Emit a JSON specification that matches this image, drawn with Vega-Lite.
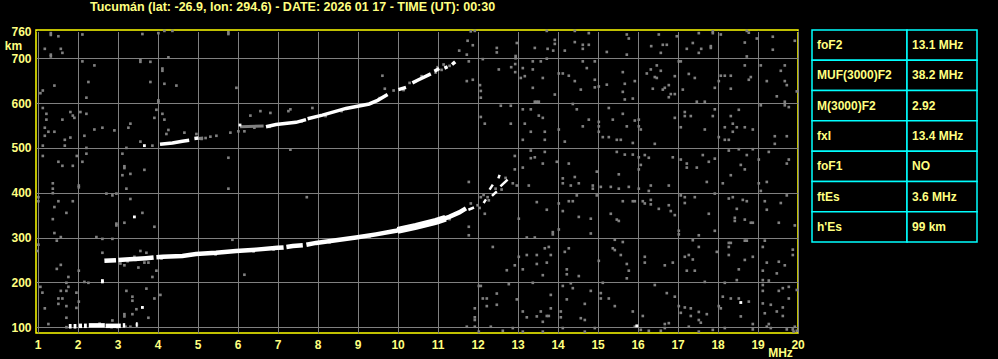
{
"$schema": "https://vega.github.io/schema/vega-lite/v6.json",
"background": "#000000",
"padding": {"left": 3, "top": 0, "right": 21, "bottom": 2},
"bounds": "flush",
"spacing": 14,
"datasets": {
"noise": [
{"f":11.83,"h":760},{"f":11.93,"h":761},{"f":11.75,"h":739},{"f":11.88,"h":729},{"f":11.54,"h":717},{"f":11.73,"h":708},{"f":12.48,"h":723},{"f":12.48,"h":713},{"f":12.98,"h":734},{"f":13.43,"h":723},{"f":13.73,"h":761},{"f":13.75,"h":721},{"f":13.93,"h":741},{"f":13.93,"h":732},{"f":13.89,"h":717},{"f":14.18,"h":717},{"f":14.43,"h":761},{"f":14.43,"h":736},{"f":14.63,"h":730},{"f":14.63,"h":721},{"f":14.78,"h":756},{"f":14.78,"h":730},{"f":15.23,"h":714},{"f":15.73,"h":753},{"f":15.78,"h":744},{"f":15.73,"h":708},{"f":16.34,"h":727},{"f":16.53,"h":753},{"f":16.63,"h":730},{"f":16.73,"h":730},{"f":16.58,"h":712},{"f":16.98,"h":749},{"f":17.23,"h":721},{"f":17.38,"h":734},{"f":17.53,"h":756},{"f":17.53,"h":712},{"f":17.59,"h":721},{"f":17.83,"h":723},{"f":17.83,"h":727},{"f":17.88,"h":756},{"f":17.88,"h":760},{"f":18.08,"h":753},{"f":18.68,"h":735},{"f":18.73,"h":761},{"f":18.78,"h":757},{"f":18.73,"h":704},{"f":18.98,"h":744},{"f":19.38,"h":748},{"f":19.38,"h":719},{"f":19.93,"h":739},
{"f":12.13,"h":698},{"f":12.53,"h":675},{"f":12.84,"h":680},{"f":12.94,"h":687},{"f":12.94,"h":669},{"f":13.13,"h":678},{"f":13.08,"h":656},{"f":13.18,"h":660},{"f":13.38,"h":693},{"f":13.38,"h":675},{"f":13.58,"h":693},{"f":13.63,"h":656},{"f":13.73,"h":699},{"f":13.38,"h":634},{"f":13.93,"h":619},{"f":14.03,"h":666},{"f":14.13,"h":666},{"f":14.28,"h":661},{"f":14.43,"h":649},{"f":14.58,"h":630},{"f":14.63,"h":693},{"f":14.73,"h":678},{"f":14.93,"h":693},{"f":14.93,"h":652},{"f":14.93,"h":635},{"f":15.03,"h":637},{"f":15.23,"h":641},{"f":15.63,"h":669},{"f":15.68,"h":643},{"f":15.63,"h":625},{"f":15.68,"h":608},{"f":15.88,"h":610},{"f":15.93,"h":649},{"f":16.23,"h":666},{"f":16.33,"h":675},{"f":16.43,"h":658},{"f":16.48,"h":656},{"f":16.48,"h":684},{"f":16.58,"h":672},{"f":16.38,"h":632},{"f":16.63,"h":630},{"f":16.68,"h":634},{"f":16.78,"h":640},{"f":16.78,"h":613},{"f":16.83,"h":620},{"f":16.93,"h":660},{"f":16.93,"h":620},{"f":17.03,"h":693},{"f":17.08,"h":693},{"f":17.13,"h":630},{"f":17.28,"h":665},{"f":17.43,"h":656},{"f":17.93,"h":634},{"f":18.03,"h":649},{"f":18.08,"h":661},{"f":18.18,"h":661},{"f":18.33,"h":661},{"f":18.33,"h":632},{"f":18.68,"h":684},{"f":18.78,"h":652},{"f":18.83,"h":658},{"f":19.23,"h":649},{"f":19.48,"h":615},{"f":19.58,"h":672},{"f":19.68,"h":684},{"f":19.68,"h":649},{"f":19.73,"h":640},{"f":19.98,"h":626},{"f":19.08,"h":684},{"f":12.06,"h":640},{"f":12.08,"h":627},{"f":12.08,"h":612},{"f":12.95,"h":705},{"f":12.95,"h":700},{"f":11.78,"h":693},{"f":11.73,"h":649},{"f":11.88,"h":652},
{"f":12.08,"h":569},{"f":12.18,"h":554},{"f":12.58,"h":594},{"f":12.83,"h":594},{"f":12.83,"h":554},{"f":13.13,"h":586},{"f":13.18,"h":554},{"f":13.33,"h":586},{"f":13.43,"h":603},{"f":13.48,"h":603},{"f":13.53,"h":603},{"f":13.53,"h":572},{"f":13.63,"h":567},{"f":13.13,"h":518},{"f":13.33,"h":536},{"f":13.68,"h":536},{"f":13.68,"h":518},{"f":14.03,"h":541},{"f":14.18,"h":514},{"f":14.38,"h":598},{"f":14.48,"h":586},{"f":14.63,"h":548},{"f":14.78,"h":563},{"f":15.03,"h":558},{"f":15.03,"h":548},{"f":15.03,"h":536},{"f":15.13,"h":524},{"f":15.28,"h":589},{"f":15.28,"h":524},{"f":15.38,"h":563},{"f":15.48,"h":518},{"f":15.58,"h":518},{"f":15.63,"h":576},{"f":15.73,"h":548},{"f":15.93,"h":561},{"f":15.88,"h":511},{"f":16.03,"h":563},{"f":16.03,"h":548},{"f":16.08,"h":541},{"f":16.43,"h":509},{"f":16.93,"h":567},{"f":17.08,"h":546},{"f":17.18,"h":580},{"f":17.18,"h":571},{"f":17.33,"h":571},{"f":17.48,"h":603},{"f":17.68,"h":603},{"f":17.68,"h":541},{"f":17.88,"h":571},{"f":17.93,"h":586},{"f":18.03,"h":524},{"f":18.18,"h":546},{"f":18.18,"h":518},{"f":18.28,"h":518},{"f":18.33,"h":571},{"f":18.38,"h":554},{"f":18.38,"h":536},{"f":18.48,"h":546},{"f":18.53,"h":585},{"f":18.68,"h":546},{"f":18.88,"h":541},{"f":19.08,"h":595},{"f":19.43,"h":526},{"f":19.43,"h":509},{"f":19.68,"h":603},{"f":19.68,"h":595},{"f":19.78,"h":591},{"f":19.73,"h":526},
{"f":12.93,"h":482},{"f":12.93,"h":452},{"f":13.13,"h":456},{"f":13.33,"h":494},{"f":13.33,"h":477},{"f":13.43,"h":479},{"f":13.63,"h":465},{"f":13.68,"h":491},{"f":13.98,"h":469},{"f":14.28,"h":465},{"f":14.43,"h":435},{"f":14.13,"h":432},{"f":14.98,"h":447},{"f":15.48,"h":491},{"f":15.53,"h":441},{"f":15.68,"h":485},{"f":15.88,"h":485},{"f":16.03,"h":479},{"f":16.08,"h":462},{"f":16.03,"h":452},{"f":16.18,"h":484},{"f":16.28,"h":478},{"f":16.88,"h":479},{"f":17.08,"h":474},{"f":17.23,"h":465},{"f":17.23,"h":456},{"f":17.48,"h":456},{"f":17.63,"h":484},{"f":17.78,"h":469},{"f":17.93,"h":476},{"f":18.28,"h":494},{"f":18.33,"h":439},{"f":18.53,"h":497},{"f":18.58,"h":462},{"f":18.68,"h":452},{"f":18.73,"h":484},{"f":18.88,"h":497},{"f":19.03,"h":474},{"f":19.28,"h":491},{"f":19.73,"h":465},{"f":19.78,"h":474},
{"f":11.78,"h":424},{"f":12.88,"h":421},{"f":12.98,"h":416},{"f":13.28,"h":416},{"f":14.13,"h":421},{"f":14.33,"h":416},{"f":14.53,"h":421},{"f":14.88,"h":416},{"f":14.88,"h":409},{"f":15.08,"h":413},{"f":15.33,"h":413},{"f":15.53,"h":409},{"f":15.78,"h":413},{"f":16.03,"h":409},{"f":16.28,"h":404},{"f":16.33,"h":416},{"f":16.78,"h":416},{"f":17.73,"h":424},{"f":18.13,"h":421},{"f":19.03,"h":421},{"f":19.23,"h":424},{"f":19.08,"h":404},
{"f":12.08,"h":390},{"f":12.28,"h":383},{"f":12.18,"h":353},{"f":11.78,"h":324},{"f":11.78,"h":305},{"f":11.83,"h":376},{"f":13.03,"h":342},{"f":13.48,"h":379},{"f":13.73,"h":362},{"f":14.03,"h":376},{"f":14.13,"h":359},{"f":14.28,"h":381},{"f":14.38,"h":381},{"f":14.48,"h":394},{"f":14.53,"h":346},{"f":14.83,"h":342},{"f":14.83,"h":309},{"f":14.98,"h":394},{"f":15.33,"h":353},{"f":15.48,"h":340},{"f":15.53,"h":337},{"f":15.63,"h":381},{"f":15.88,"h":381},{"f":15.93,"h":381},{"f":16.13,"h":381},{"f":16.18,"h":376},{"f":16.33,"h":384},{"f":16.33,"h":374},{"f":16.53,"h":364},{"f":16.78,"h":372},{"f":16.83,"h":359},{"f":16.93,"h":350},{"f":17.08,"h":394},{"f":17.18,"h":390},{"f":17.18,"h":377},{"f":17.43,"h":390},{"f":17.78,"h":353},{"f":17.93,"h":398},{"f":18.28,"h":387},{"f":18.38,"h":390},{"f":18.48,"h":364},{"f":18.43,"h":344},{"f":18.43,"h":337},{"f":18.63,"h":384},{"f":18.73,"h":381},{"f":18.68,"h":340},{"f":18.83,"h":333},{"f":18.88,"h":333},{"f":19.23,"h":362},{"f":19.18,"h":381},{"f":19.58,"h":377},{"f":19.73,"h":394},{"f":19.93,"h":327},{"f":19.53,"h":333},{"f":13.88,"h":307},{"f":13.88,"h":312},{"f":14.03,"h":318},{"f":13.23,"h":300},{"f":13.43,"h":300},{"f":15.43,"h":295},{"f":15.63,"h":290},{"f":17.03,"h":315},{"f":17.03,"h":307},{"f":17.53,"h":305},{"f":17.38,"h":294},{"f":17.93,"h":315},{"f":18.28,"h":288},{"f":18.33,"h":288},{"f":18.68,"h":293},{"f":18.73,"h":293},{"f":19.18,"h":293},
{"f":12.38,"h":279},{"f":13.03,"h":257},{"f":13.23,"h":261},{"f":13.48,"h":261},{"f":13.48,"h":241},{"f":13.68,"h":276},{"f":13.73,"h":244},{"f":13.78,"h":279},{"f":13.83,"h":261},{"f":14.18,"h":268},{"f":14.23,"h":229},{"f":14.28,"h":276},{"f":14.23,"h":218},{"f":14.53,"h":214},{"f":15.03,"h":248},{"f":15.38,"h":276},{"f":15.43,"h":272},{"f":15.58,"h":261},{"f":15.73,"h":241},{"f":15.78,"h":226},{"f":15.73,"h":209},{"f":16.18,"h":257},{"f":16.18,"h":244},{"f":16.68,"h":238},{"f":16.88,"h":244},{"f":17.18,"h":257},{"f":17.28,"h":261},{"f":17.38,"h":251},{"f":17.23,"h":226},{"f":17.43,"h":226},{"f":17.53,"h":279},{"f":17.98,"h":268},{"f":18.28,"h":279},{"f":18.28,"h":261},{"f":18.53,"h":229},{"f":18.68,"h":250},{"f":18.88,"h":257},{"f":19.13,"h":279},{"f":19.13,"h":226},{"f":19.23,"h":244},{"f":19.48,"h":220},{"f":19.53,"h":246},{"f":19.68,"h":238},{"f":19.88,"h":273},{"f":19.88,"h":261},{"f":12.73,"h":227},{"f":12.93,"h":238},{"f":13.13,"h":229},{"f":13.63,"h":216},
{"f":12.03,"h":192},{"f":12.08,"h":192},{"f":12.78,"h":196},{"f":13.38,"h":199},{"f":14.13,"h":192},{"f":14.33,"h":198},{"f":14.38,"h":187},{"f":14.83,"h":181},{"f":15.08,"h":176},{"f":15.13,"h":199},{"f":16.43,"h":194},{"f":16.73,"h":176},{"f":16.93,"h":168},{"f":17.68,"h":201},{"f":18.18,"h":199},{"f":18.48,"h":205},{"f":19.13,"h":205},{"f":19.28,"h":204},{"f":19.13,"h":194},{"f":19.13,"h":181},{"f":19.53,"h":181},{"f":19.63,"h":187},{"f":19.78,"h":190},{"f":19.98,"h":183},
{"f":11.93,"h":142},{"f":11.93,"h":116},{"f":11.93,"h":122},{"f":12.13,"h":164},{"f":12.23,"h":164},{"f":12.23,"h":147},{"f":12.48,"h":175},{"f":12.48,"h":150},{"f":12.98,"h":162},{"f":13.13,"h":135},{"f":13.23,"h":122},{"f":13.48,"h":124},{"f":13.58,"h":135},{"f":13.63,"h":112},{"f":13.73,"h":125},{"f":13.78,"h":125},{"f":13.83,"h":172},{"f":13.83,"h":142},{"f":14.08,"h":135},{"f":14.08,"h":122},{"f":14.23,"h":162},{"f":14.58,"h":120},{"f":14.68,"h":116},{"f":14.68,"h":152},{"f":15.08,"h":164},{"f":15.28,"h":164},{"f":15.43,"h":147},{"f":15.88,"h":135},{"f":16.13,"h":125},{"f":16.58,"h":92},{"f":16.68,"h":107},{"f":16.78,"h":109},{"f":17.03,"h":147},{"f":17.08,"h":132},{"f":17.18,"h":144},{"f":17.33,"h":142},{"f":17.33,"h":125},{"f":17.53,"h":134},{"f":17.53,"h":116},{"f":17.58,"h":110},{"f":17.73,"h":129},{"f":18.03,"h":147},{"f":18.08,"h":142},{"f":18.13,"h":168},{"f":18.33,"h":164},{"f":18.53,"h":164},{"f":18.58,"h":124},{"f":18.78,"h":157},{"f":18.88,"h":107},{"f":19.13,"h":153},{"f":19.18,"h":131},{"f":19.28,"h":107},{"f":19.33,"h":150},{"f":19.48,"h":135},{"f":19.63,"h":144},{"f":19.63,"h":125},{"f":19.78,"h":164},
{"f":11.73,"h":101},{"f":11.93,"h":101},{"f":12.03,"h":90},{"f":12.33,"h":101},{"f":12.63,"h":92},{"f":12.88,"h":98},{"f":13.13,"h":90},{"f":13.63,"h":90},{"f":14.13,"h":98},{"f":14.68,"h":90},{"f":14.93,"h":98},{"f":15.93,"h":101},{"f":16.08,"h":94},{"f":16.28,"h":92},{"f":16.68,"h":98},{"f":17.28,"h":101},{"f":17.53,"h":90},{"f":17.88,"h":94},{"f":18.18,"h":98},{"f":18.88,"h":95},{"f":19.23,"h":101},{"f":19.33,"h":98},{"f":19.73,"h":95},{"f":19.88,"h":95},{"f":19.93,"h":101},{"f":19.98,"h":92},{"f":19.9,"h":90},
{"f":1.33,"h":756},{"f":1.33,"h":752},{"f":1.52,"h":749},{"f":1.18,"h":721},{"f":1.58,"h":721},{"f":1.62,"h":712},{"f":1.33,"h":708},{"f":1.33,"h":704},{"f":2.12,"h":753},{"f":2.12,"h":693},{"f":2.42,"h":684},{"f":2.27,"h":647},{"f":2.22,"h":612},{"f":1.42,"h":639},{"f":1.13,"h":628},{"f":1.07,"h":622},{"f":1.13,"h":589},{"f":1.22,"h":576},{"f":1.82,"h":580},{"f":1.88,"h":572},{"f":1.92,"h":567},{"f":2.07,"h":580},{"f":2.22,"h":576},{"f":1.22,"h":563},{"f":1.62,"h":563},{"f":1.18,"h":545},{"f":1.27,"h":536},{"f":1.42,"h":536},{"f":1.18,"h":527},{"f":1.68,"h":518},{"f":1.82,"h":523},{"f":2.17,"h":527},{"f":2.42,"h":541},{"f":2.62,"h":545},{"f":2.92,"h":539},{"f":1.13,"h":505},{"f":1.68,"h":505},{"f":2.22,"h":500},{"f":1.13,"h":482},{"f":1.52,"h":469},{"f":1.62,"h":460},{"f":1.88,"h":460},{"f":1.98,"h":482},{"f":2.12,"h":469},{"f":2.22,"h":487},{"f":3.12,"h":487},{"f":3.17,"h":459},{"f":3.17,"h":455},{"f":3.32,"h":442},{"f":3.12,"h":439},{"f":3.67,"h":451},{"f":3.22,"h":500},{"f":3.27,"h":545},{"f":3.32,"h":554},{"f":3.62,"h":754},{"f":3.57,"h":697},{"f":3.57,"h":692},{"f":3.82,"h":692},{"f":4.02,"h":756},{"f":4.17,"h":761},{"f":4.37,"h":761},{"f":4.27,"h":702},{"f":4.12,"h":677},{"f":4.12,"h":672},{"f":3.82,"h":647},{"f":4.17,"h":643},{"f":4.47,"h":639},{"f":4.02,"h":606},{"f":4.02,"h":602},{"f":3.97,"h":585},{"f":3.92,"h":567},{"f":4.12,"h":576},{"f":4.17,"h":563},{"f":4.27,"h":540},{"f":4.22,"h":531},{"f":4.67,"h":534},{"f":4.97,"h":531},{"f":5.32,"h":525},{"f":5.47,"h":527},{"f":5.82,"h":534},{"f":5.77,"h":478},{"f":5.97,"h":634},{"f":5.77,"h":758},{"f":5.77,"h":754},{"f":6.02,"h":537},{"f":6.17,"h":537},{"f":6.32,"h":572},{"f":6.42,"h":545},{"f":6.57,"h":582},{"f":6.82,"h":578},{"f":7.27,"h":582},{"f":7.32,"h":586},{"f":7.87,"h":589},{"f":9.62,"h":661},{"f":9.68,"h":632},{"f":7.32,"h":496},{"f":3.57,"h":514},{"f":3.87,"h":505},
{"f":1.38,"h":421},{"f":1.38,"h":409},{"f":1.38,"h":399},{"f":2.03,"h":416},{"f":2.03,"h":412},{"f":2.72,"h":398},{"f":2.87,"h":394},{"f":2.97,"h":398},{"f":3.22,"h":409},{"f":1.02,"h":390},{"f":1.02,"h":381},{"f":1.52,"h":381},{"f":1.88,"h":381},{"f":1.42,"h":368},{"f":1.72,"h":355},{"f":3.32,"h":386},{"f":3.62,"h":355},{"f":1.38,"h":341},{"f":2.97,"h":331},{"f":2.97,"h":327},{"f":3.17,"h":333},{"f":3.92,"h":324},{"f":5.77,"h":409},{"f":7.73,"h":390},{"f":1.42,"h":310},{"f":1.48,"h":293},{"f":1.58,"h":301},{"f":2.47,"h":301},{"f":2.62,"h":297},{"f":2.87,"h":297},{"f":5.87,"h":295},{"f":1.02,"h":284},{"f":1.0,"h":270},{"f":2.62,"h":266},{"f":3.57,"h":270},{"f":3.72,"h":266},{"f":3.07,"h":242},{"f":3.17,"h":238},{"f":3.42,"h":257},{"f":3.52,"h":233},{"f":3.67,"h":244},{"f":3.77,"h":244},{"f":3.97,"h":226},{"f":1.58,"h":239},{"f":1.48,"h":230},{"f":2.03,"h":226},{"f":1.77,"h":212},{"f":1.72,"h":199},{"f":1.77,"h":190},{"f":2.17,"h":201},{"f":2.27,"h":199},{"f":3.87,"h":212},{"f":1.07,"h":190},{"f":1.12,"h":177},{"f":1.58,"h":181},{"f":1.72,"h":181},{"f":1.97,"h":177},{"f":2.03,"h":157},{"f":3.22,"h":181},{"f":3.37,"h":168},{"f":3.37,"h":159},{"f":3.72,"h":186},{"f":4.07,"h":172},{"f":3.92,"h":164},{"f":1.52,"h":164},{"f":1.62,"h":164},{"f":1.52,"h":152},{"f":1.72,"h":147},{"f":1.18,"h":142},{"f":1.97,"h":143},{"f":3.17,"h":129},{"f":3.17,"h":124},{"f":3.47,"h":140},{"f":3.37,"h":129},{"f":3.77,"h":121},{"f":1.27,"h":107},{"f":1.72,"h":121},{"f":2.87,"h":115},{"f":6.17,"h":217},{"f":3.2,"h":101},{"f":3.32,"h":101},{"f":3.48,"h":104},{"f":1.72,"h":100},{"f":2.55,"h":108},{"f":2.85,"h":100},{"f":3.0,"h":100},{"f":3.48,"h":107},
{"f":3.25,"h":247},{"f":3.45,"h":250},{"f":4.1,"h":253},{"f":5.45,"h":262},{"f":6.4,"h":269},{"f":6.9,"h":273},{"f":8.3,"h":289},{"f":9.3,"h":302},{"f":10.9,"h":331},{"f":11.3,"h":341},
{"f":5.1,"h":520},{"f":5.2,"h":522},{"f":6.8,"h":547},{"f":7.6,"h":559},{"f":8.2,"h":571},{"f":8.6,"h":582},{"f":9.55,"h":611},{"f":9.9,"h":628},{"f":10.15,"h":629},{"f":10.3,"h":645},{"f":10.6,"h":660},{"f":10.95,"h":668},{"f":11.1,"h":674},{"f":11.3,"h":683},{"f":11.15,"h":686},{"f":11.0,"h":680},
{"f":12.0,"h":372},{"f":12.05,"h":366},{"f":12.25,"h":390},{"f":12.45,"h":409},{"f":12.6,"h":407},{"f":12.7,"h":433},{"f":12.15,"h":395}
],
"white": [
{"f":3.42,"h":346},{"f":2.62,"h":201},{"f":2.62,"h":204},{"f":3.62,"h":144},{"f":3.67,"h":505},{"f":6.06,"h":551},{"f":18.58,"h":155},{"f":15.98,"h":103}
],
"es": [
{"seg":1,"f":1.78,"h":102},{"seg":1,"f":1.85,"h":102},
{"seg":2,"f":1.9,"h":102},{"seg":2,"f":1.97,"h":102},
{"seg":3,"f":2.03,"h":103},{"seg":3,"f":2.11,"h":103},
{"seg":4,"f":2.16,"h":103},{"seg":4,"f":2.23,"h":103},
{"seg":5,"f":2.28,"h":104},{"seg":5,"f":2.68,"h":104},
{"seg":6,"f":2.7,"h":103},{"seg":6,"f":3.08,"h":103},
{"seg":7,"f":3.13,"h":104},{"seg":7,"f":3.19,"h":104},
{"seg":8,"f":3.46,"h":106},{"seg":8,"f":3.5,"h":106}
],
"f": [
{"seg":1,"f":2.67,"h":248},{"seg":1,"f":2.96,"h":249.5},
{"seg":2,"f":3.02,"h":250},{"seg":2,"f":3.21,"h":251},{"seg":2,"f":3.71,"h":254},{"seg":2,"f":3.9,"h":255.5},
{"seg":3,"f":3.97,"h":256},{"seg":3,"f":4.13,"h":257},{"seg":3,"f":4.62,"h":259},{"seg":3,"f":4.96,"h":263},{"seg":3,"f":5.46,"h":266},{"seg":3,"f":5.96,"h":270},{"seg":3,"f":6.46,"h":273},{"seg":3,"f":7.0,"h":277},{"seg":3,"f":7.15,"h":278},
{"seg":4,"f":7.22,"h":279},{"seg":4,"f":7.38,"h":281},{"seg":4,"f":7.63,"h":283},
{"seg":5,"f":7.72,"h":284},{"seg":5,"f":7.96,"h":288},{"seg":5,"f":8.46,"h":294},{"seg":5,"f":8.96,"h":300},{"seg":5,"f":9.46,"h":307},{"seg":5,"f":9.96,"h":315},{"seg":5,"f":10.46,"h":325},{"seg":5,"f":10.96,"h":336},{"seg":5,"f":11.29,"h":346},{"seg":5,"f":11.54,"h":356},{"seg":5,"f":11.71,"h":365}
],
"fthick": [
{"seg":1,"f":10.0,"h":316},{"seg":1,"f":10.46,"h":325},{"seg":1,"f":10.96,"h":336},{"seg":1,"f":11.2,"h":343}
],
"fx": [
{"seg":0,"f":11.77,"h":362},{"seg":0,"f":11.91,"h":367},
{"seg":1,"f":12.15,"h":377},{"seg":1,"f":12.21,"h":385},
{"seg":2,"f":12.36,"h":393},{"seg":2,"f":12.48,"h":403},
{"seg":3,"f":12.3,"h":407},{"seg":3,"f":12.38,"h":418},
{"seg":4,"f":12.52,"h":432},{"seg":4,"f":12.55,"h":440},
{"seg":5,"f":12.57,"h":414},{"seg":5,"f":12.75,"h":429}
],
"f2gray": [
{"seg":1,"f":5.03,"h":521},{"seg":1,"f":5.14,"h":522},
{"seg":2,"f":6.06,"h":547},{"seg":2,"f":6.65,"h":549}
],
"f2": [
{"seg":1,"f":4.06,"h":508},{"seg":1,"f":4.37,"h":511},{"seg":1,"f":4.62,"h":515},{"seg":1,"f":4.79,"h":517},
{"seg":2,"f":4.92,"h":521},{"seg":2,"f":5.02,"h":522},
{"seg":3,"f":6.71,"h":547},{"seg":3,"f":6.96,"h":552},{"seg":3,"f":7.46,"h":557},{"seg":3,"f":7.71,"h":563},
{"seg":4,"f":7.75,"h":565},{"seg":4,"f":8.12,"h":573},{"seg":4,"f":8.71,"h":588},{"seg":4,"f":9.29,"h":598},{"seg":4,"f":9.5,"h":606},{"seg":4,"f":9.75,"h":619},
{"seg":5,"f":10.02,"h":630},{"seg":5,"f":10.21,"h":635},
{"seg":6,"f":10.37,"h":645},{"seg":6,"f":10.5,"h":651},{"seg":6,"f":10.83,"h":665},
{"seg":7,"f":10.92,"h":671},{"seg":7,"f":11.04,"h":677},
{"seg":8,"f":11.17,"h":678},{"seg":8,"f":11.25,"h":681},
{"seg":9,"f":11.36,"h":686},{"seg":9,"f":11.44,"h":692}
],
"table": [
{"row":1,"name":"foF2","value":"13.1 MHz"},
{"row":2,"name":"MUF(3000)F2","value":"38.2 MHz"},
{"row":3,"name":"M(3000)F2","value":"2.92"},
{"row":4,"name":"fxI","value":"13.4 MHz"},
{"row":5,"name":"foF1","value":"NO"},
{"row":6,"name":"ftEs","value":"3.6 MHz"},
{"row":7,"name":"h'Es","value":"99 km"}
]
},
"hconcat": [
{
"width": 762,
"height": 303,
"view": {"stroke": "#ffff00", "strokeWidth": 1.5, "fill": "#000000"},
"title": {"text": "Tucumán (lat: -26.9, lon: 294.6) - DATE: 2026 01 17 - TIME (UT): 00:30", "anchor": "start", "frame": "group", "dx": 54, "offset": 12, "font": "Liberation Sans", "fontSize": 12.5, "fontWeight": "bold", "color": "#ffff80"},
"encoding": {
"x": {"field": "f", "type": "quantitative", "scale": {"domain": [0.96, 20.01], "nice": false, "zero": false},
"axis": {"values": [1,2,3,4,5,6,7,8,9,10,11,12,13,14,15,16,17,18,19,20], "format": "d", "grid": true, "gridColor": "#808080", "gridWidth": 1, "ticks": false, "domain": false, "labelPadding": 6, "labelFlush": false, "labelOverlap": false, "title": "MHz", "titleX": 744, "titleY": 19.5, "titleAlign": "center", "titleBaseline": "middle", "titleAngle": 0}},
"y": {"field": "h", "type": "quantitative", "scale": {"domain": [87, 763], "nice": false, "zero": false},
"axis": {"values": [100,200,300,400,500,600,700,760], "format": "d", "grid": true, "gridColor": {"condition": {"test": "datum.value === 760", "value": "#000000"}, "value": "#808080"}, "gridWidth": 1, "ticks": false, "domain": false, "labelPadding": 5, "labelFlush": false, "labelOverlap": false, "title": "km", "titleX": -23, "titleY": 15, "titleAlign": "center", "titleBaseline": "middle", "titleAngle": 0}}
},
"layer": [
{"data": {"name": "noise"}, "mark": {"type": "square", "size": 7, "color": "#808080", "opacity": 1}},
{"data": {"name": "f2gray"}, "mark": {"type": "line", "color": "#808080", "strokeWidth": 3}, "encoding": {"detail": {"field": "seg"}}},
{"data": {"name": "es"}, "mark": {"type": "line", "color": "#ffffff", "strokeWidth": 4.5}, "encoding": {"detail": {"field": "seg"}}},
{"data": {"name": "f"}, "mark": {"type": "line", "color": "#ffffff", "strokeWidth": 4.5}, "encoding": {"detail": {"field": "seg"}}},
{"data": {"name": "fthick"}, "mark": {"type": "line", "color": "#ffffff", "strokeWidth": 7}, "encoding": {"detail": {"field": "seg"}}},
{"data": {"name": "fx"}, "mark": {"type": "line", "color": "#ffffff", "strokeWidth": 2.5}, "encoding": {"detail": {"field": "seg"}}},
{"data": {"name": "f2"}, "mark": {"type": "line", "color": "#ffffff", "strokeWidth": 3.5}, "encoding": {"detail": {"field": "seg"}}},
{"data": {"name": "white"}, "mark": {"type": "square", "size": 8, "color": "#ffffff", "opacity": 1}}
]
},
{
"hconcat": [
{
"width": 95, "height": 212,
"data": {"name": "table"},
"encoding": {"y": {"field": "row", "type": "ordinal", "scale": {"paddingInner": 0, "paddingOuter": 0}, "axis": null}},
"layer": [
{"mark": {"type": "rect", "fill": "#000000", "stroke": "#00ffff", "strokeWidth": 1.5}},
{"mark": {"type": "text", "align": "left", "baseline": "middle", "dx": 5, "font": "Liberation Sans", "fontSize": 12, "fontWeight": "bold", "color": "#ffff80"},
"encoding": {"text": {"field": "name"}, "x": {"datum": 0, "type": "quantitative", "scale": {"domain": [0, 1]}, "axis": null}}}
]
},
{
"width": 70, "height": 212,
"data": {"name": "table"},
"encoding": {"y": {"field": "row", "type": "ordinal", "scale": {"paddingInner": 0, "paddingOuter": 0}, "axis": null}},
"layer": [
{"mark": {"type": "rect", "fill": "#000000", "stroke": "#00ffff", "strokeWidth": 1.5}},
{"mark": {"type": "text", "align": "left", "baseline": "middle", "dx": 5, "font": "Liberation Sans", "fontSize": 12, "fontWeight": "bold", "color": "#ffff80"},
"encoding": {"text": {"field": "value"}, "x": {"datum": 0, "type": "quantitative", "scale": {"domain": [0, 1]}, "axis": null}}}
]
}
],
"spacing": 0,
"bounds": "flush"
}
],
"config": {
"view": {"stroke": null},
"axis": {"labelFont": "Liberation Sans", "labelFontSize": 12, "labelFontWeight": "bold", "labelColor": "#ffff80", "titleFont": "Liberation Sans", "titleFontSize": 12, "titleFontWeight": "bold", "titleColor": "#ffff80"}
}
}
